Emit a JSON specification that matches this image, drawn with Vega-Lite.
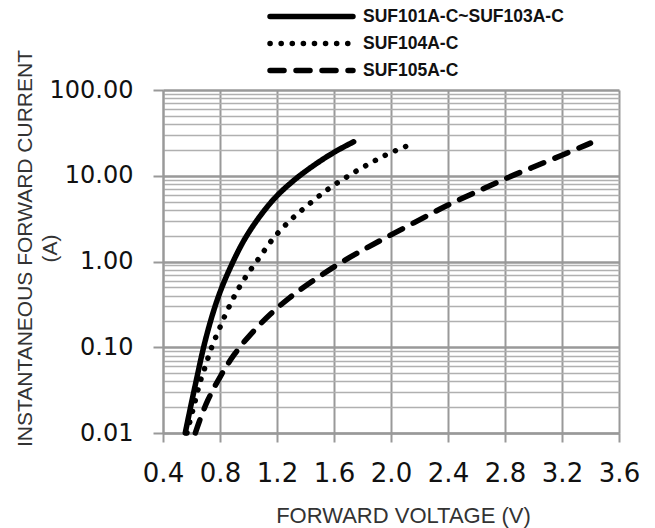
{
  "$schema": "https://vega.github.io/schema/vega-lite/v6.json",
  "autosize": {"type": "none"},
  "padding": {"left": 163, "top": 90, "right": 36, "bottom": 95},
  "width": 456,
  "height": 343,
  "background": "white",
  "config": {"view": {"stroke": null}, "font": "Liberation Sans"},
  "data": {"values": [
    {"s": "SUF101A-C~SUF103A-C", "v": 0.556, "i": 0.01},
    {"s": "SUF101A-C~SUF103A-C", "v": 0.603, "i": 0.024},
    {"s": "SUF101A-C~SUF103A-C", "v": 0.639, "i": 0.045},
    {"s": "SUF101A-C~SUF103A-C", "v": 0.674, "i": 0.085},
    {"s": "SUF101A-C~SUF103A-C", "v": 0.709, "i": 0.145},
    {"s": "SUF101A-C~SUF103A-C", "v": 0.755, "i": 0.27},
    {"s": "SUF101A-C~SUF103A-C", "v": 0.814, "i": 0.52},
    {"s": "SUF101A-C~SUF103A-C", "v": 0.896, "i": 1.04},
    {"s": "SUF101A-C~SUF103A-C", "v": 0.966, "i": 1.78},
    {"s": "SUF101A-C~SUF103A-C", "v": 1.05, "i": 2.9},
    {"s": "SUF101A-C~SUF103A-C", "v": 1.13, "i": 4.35},
    {"s": "SUF101A-C~SUF103A-C", "v": 1.204, "i": 6.0},
    {"s": "SUF101A-C~SUF103A-C", "v": 1.283, "i": 7.9},
    {"s": "SUF101A-C~SUF103A-C", "v": 1.363, "i": 10.2},
    {"s": "SUF101A-C~SUF103A-C", "v": 1.481, "i": 14.1},
    {"s": "SUF101A-C~SUF103A-C", "v": 1.604, "i": 19.1},
    {"s": "SUF101A-C~SUF103A-C", "v": 1.738, "i": 24.9},
    {"s": "SUF104A-C", "v": 0.568, "i": 0.01},
    {"s": "SUF104A-C", "v": 0.615, "i": 0.02},
    {"s": "SUF104A-C", "v": 0.639, "i": 0.029},
    {"s": "SUF104A-C", "v": 0.662, "i": 0.041},
    {"s": "SUF104A-C", "v": 0.692, "i": 0.056},
    {"s": "SUF104A-C", "v": 0.72, "i": 0.079},
    {"s": "SUF104A-C", "v": 0.751, "i": 0.112},
    {"s": "SUF104A-C", "v": 0.79, "i": 0.155},
    {"s": "SUF104A-C", "v": 0.825, "i": 0.217},
    {"s": "SUF104A-C", "v": 0.865, "i": 0.3},
    {"s": "SUF104A-C", "v": 0.907, "i": 0.417},
    {"s": "SUF104A-C", "v": 0.954, "i": 0.565},
    {"s": "SUF104A-C", "v": 1.006, "i": 0.77},
    {"s": "SUF104A-C", "v": 1.06, "i": 1.01},
    {"s": "SUF104A-C", "v": 1.118, "i": 1.4},
    {"s": "SUF104A-C", "v": 1.172, "i": 1.86},
    {"s": "SUF104A-C", "v": 1.235, "i": 2.43},
    {"s": "SUF104A-C", "v": 1.305, "i": 3.18},
    {"s": "SUF104A-C", "v": 1.375, "i": 3.98},
    {"s": "SUF104A-C", "v": 1.453, "i": 5.1},
    {"s": "SUF104A-C", "v": 1.527, "i": 6.4},
    {"s": "SUF104A-C", "v": 1.604, "i": 7.9},
    {"s": "SUF104A-C", "v": 1.686, "i": 9.6},
    {"s": "SUF104A-C", "v": 1.768, "i": 11.7},
    {"s": "SUF104A-C", "v": 1.855, "i": 14.0},
    {"s": "SUF104A-C", "v": 1.937, "i": 16.7},
    {"s": "SUF104A-C", "v": 2.03, "i": 19.6},
    {"s": "SUF104A-C", "v": 2.117, "i": 22.4},
    {"s": "SUF105A-C", "v": 0.627, "i": 0.01},
    {"s": "SUF105A-C", "v": 0.65, "i": 0.013},
    {"s": "SUF105A-C", "v": 0.709, "i": 0.024},
    {"s": "SUF105A-C", "v": 0.802, "i": 0.046},
    {"s": "SUF105A-C", "v": 0.896, "i": 0.083},
    {"s": "SUF105A-C", "v": 1.025, "i": 0.15},
    {"s": "SUF105A-C", "v": 1.153, "i": 0.245},
    {"s": "SUF105A-C", "v": 1.281, "i": 0.375},
    {"s": "SUF105A-C", "v": 1.434, "i": 0.57},
    {"s": "SUF105A-C", "v": 1.621, "i": 0.92},
    {"s": "SUF105A-C", "v": 1.761, "i": 1.25},
    {"s": "SUF105A-C", "v": 1.925, "i": 1.76},
    {"s": "SUF105A-C", "v": 2.16, "i": 2.82},
    {"s": "SUF105A-C", "v": 2.393, "i": 4.55},
    {"s": "SUF105A-C", "v": 2.627, "i": 6.8},
    {"s": "SUF105A-C", "v": 2.802, "i": 9.3},
    {"s": "SUF105A-C", "v": 2.978, "i": 12.2},
    {"s": "SUF105A-C", "v": 3.204, "i": 17.5},
    {"s": "SUF105A-C", "v": 3.4, "i": 24.0}
  ]},
  "mark": {"type": "line", "color": "black", "strokeWidth": 5.5, "strokeCap": "round", "interpolate": "basis"},
  "encoding": {
    "x": {
      "field": "v", "type": "quantitative",
      "scale": {"domain": [0.4, 3.6], "nice": false, "zero": false},
      "axis": {
        "values": [0.4, 0.8, 1.2, 1.6, 2.0, 2.4, 2.8, 3.2, 3.6],
        "format": ".1f",
        "title": "FORWARD VOLTAGE (V)",
        "titleFont": "Liberation Sans", "titleFontSize": 22, "titleFontWeight": "normal", "titleColor": "#333333",
        "titleX": 240, "titleY": 89, "titleBaseline": "alphabetic", "titleAlign": "center",
        "labelFont": "DejaVu Sans", "labelFontSize": 26, "labelColor": "#111111", "labelPadding": 18,
        "labelFlush": false, "labelOverlap": false,
        "tickSize": 9, "tickWidth": 2, "tickColor": "#999999",
        "domainColor": "#999999", "domainWidth": 2,
        "grid": true, "gridColor": "#999999", "gridWidth": 2
      }
    },
    "y": {
      "field": "i", "type": "quantitative",
      "scale": {"type": "log", "domain": [0.01, 100], "nice": false},
      "axis": {
        "values": [0.01, 0.02, 0.03, 0.04, 0.05, 0.06, 0.07, 0.08, 0.09,
                   0.1, 0.2, 0.3, 0.4, 0.5, 0.6, 0.7, 0.8, 0.9,
                   1, 2, 3, 4, 5, 6, 7, 8, 9,
                   10, 20, 30, 40, 50, 60, 70, 80, 90, 100],
        "labelExpr": "abs(log(datum.value)/LN10 - round(log(datum.value)/LN10)) < 0.001 ? format(datum.value, '.2f') : ''",
        "title": ["INSTANTANEOUS FORWARD CURRENT", "(A)"],
        "titleFont": "Liberation Sans", "titleFontSize": 21, "titleFontWeight": "normal", "titleColor": "#333333",
        "titleLineHeight": 25,
        "titleX": -128, "titleY": 158, "titleAngle": -90, "titleAlign": "center", "titleBaseline": "bottom",
        "labelFont": "DejaVu Sans", "labelFontSize": 24, "labelColor": "#111111", "labelPadding": 20,
        "labelOverlap": false,
        "tickSize": 10, "tickWidth": 2, "tickColor": "#999999",
        "tickOpacity": {"condition": {"test": "abs(log(datum.value)/LN10 - round(log(datum.value)/LN10)) < 0.001", "value": 1}, "value": 0},
        "domainColor": "#999999", "domainWidth": 2,
        "grid": true,
        "gridColor": {"condition": {"test": "abs(log(datum.value)/LN10 - round(log(datum.value)/LN10)) < 0.001", "value": "#999999"}, "value": "#b0b0b0"},
        "gridWidth": {"condition": {"test": "abs(log(datum.value)/LN10 - round(log(datum.value)/LN10)) < 0.001", "value": 2.5}, "value": 1.5}
      }
    },
    "strokeDash": {
      "field": "s", "type": "nominal",
      "scale": {"domain": ["SUF101A-C~SUF103A-C", "SUF104A-C", "SUF105A-C"], "range": [[1, 0], [0.1, 11], [14, 12]]},
      "legend": {
        "orient": "none", "legendX": 135, "legendY": -87,
        "title": null,
        "symbolType": "M-4,0H4", "symbolSize": 430, "symbolStrokeWidth": 5.5, "symbolStrokeColor": "black",
        "labelFont": "Liberation Sans", "labelFontSize": 17.5, "labelFontWeight": "bold", "labelColor": "#111111",
        "labelOffset": 38, "rowPadding": 2, "labelLimit": 400,
        "encoding": {"symbols": {"strokeCap": {"value": "round"}}}
      }
    }
  }
}
